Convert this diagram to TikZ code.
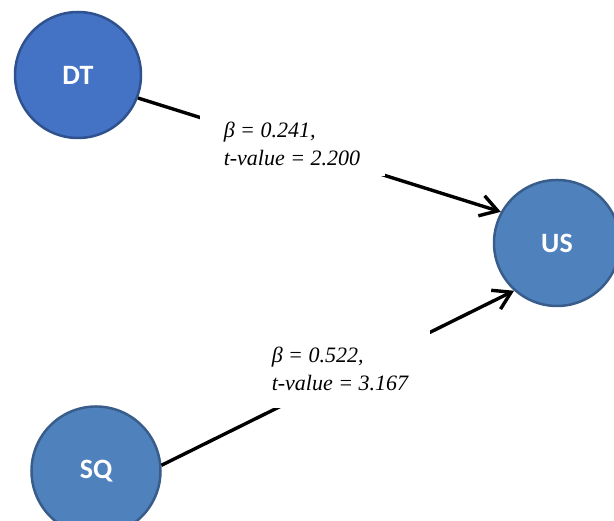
\documentclass[tikz,border=0pt]{standalone}
\usepackage{fontspec}
\setmainfont{Liberation Serif}
\newfontfamily\calib{Carlito}
\usetikzlibrary{arrows.meta}
\definecolor{dtfill}{HTML}{4472C4}
\definecolor{dtline}{HTML}{2F528F}
\definecolor{usfill}{HTML}{4F81BD}
\definecolor{usline}{HTML}{385D8A}
\tikzset{
  construct/.style={circle, line width=2.5pt, minimum size=126pt, inner sep=0pt,
    text=white, font=\calib\bfseries\fontsize{28}{30}\selectfont},
  path/.style={line width=3.4pt, black, -{Straight Barb[length=17pt,width=21pt,line width=3.4pt]}},
  coef/.style={fill=white, inner sep=0pt, align=left,
    font=\itshape\fontsize{22}{28}\selectfont}
}
\begin{document}
\begin{tikzpicture}[x=1pt,y=1pt]
\useasboundingbox (0,0) rectangle (614,521);
\node[construct, fill=dtfill, draw=dtline] (DT) at (78,446) {DT};
\node[construct, fill=usfill, draw=usline] (US) at (557,278) {US};
\node[construct, fill=usfill, draw=usline, minimum size=129pt] (SQ) at (96,50) {SQ};
\draw[path] (DT.-21) -- (US.151.5);
\draw[path] (SQ.5) -- (US.228);
\node[coef, minimum width=185pt, minimum height=64pt] (L1) at (292,377)
  {β = 0.241,\\t-value = 2.200};
\node[coef, minimum width=180pt, minimum height=78pt] (L2) at (340,152)
  {β = 0.522,\\t-value = 3.167};
\end{tikzpicture}
\end{document}
